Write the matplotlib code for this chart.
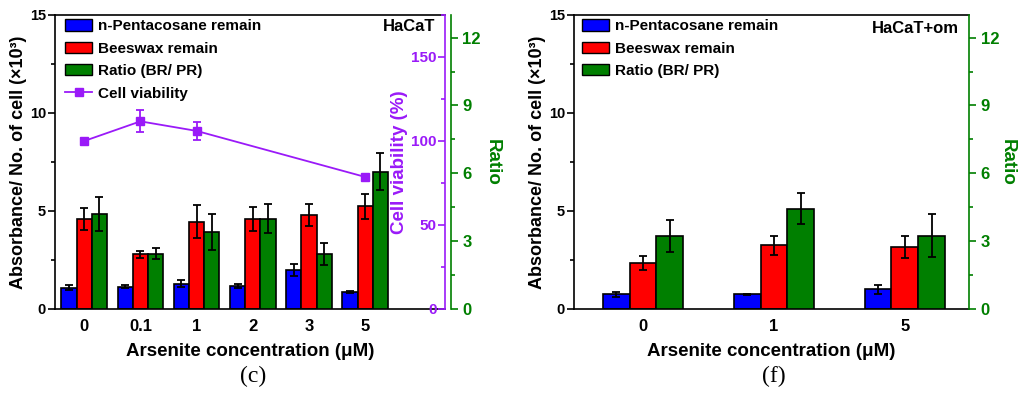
import matplotlib
matplotlib.use("Agg")
import matplotlib.pyplot as plt
from matplotlib.patches import Patch
from matplotlib.lines import Line2D
from matplotlib.ticker import MultipleLocator
import numpy as np

plt.rcParams['font.family'] = ['Liberation Sans', 'DejaVu Sans']
plt.rcParams['font.weight'] = 'bold'

# ---- data: panel (c) HaCaT ----
c_cats = ['0', '0.1', '1', '2', '3', '5']
c_pr = [1.09, 1.14, 1.29, 1.19, 1.97, 0.87]
c_pr_err = [0.11, 0.06, 0.19, 0.10, 0.31, 0.03]
c_br = [4.59, 2.80, 4.46, 4.59, 4.81, 5.24]
c_br_err = [0.58, 0.18, 0.86, 0.60, 0.56, 0.65]
c_ratio = [4.20, 2.44, 3.41, 4.00, 2.43, 6.06]
c_ratio_err = [0.75, 0.25, 0.81, 0.64, 0.49, 0.82]
c_via_cats = ['0', '0.1', '1', '5']
c_via = [100.0, 111.7, 106.0, 78.6]
c_via_err = [0.0, 6.5, 5.2, 0.0]

# ---- data: panel (f) HaCaT+om ----
f_cats = ['0', '1', '5']
f_pr = [0.75, 0.75, 1.00]
f_pr_err = [0.14, 0.02, 0.24]
f_br = [2.36, 3.25, 3.16]
f_br_err = [0.36, 0.48, 0.54]
f_ratio = [3.22, 4.44, 3.25]
f_ratio_err = [0.71, 0.68, 0.95]

BLUE = '#0000FF'
RED = '#FF0000'
GREEN = '#007F00'
PURPLE = '#9A1AF8'

fig = plt.figure(figsize=(10.24, 3.95), dpi=100)

def px_ax(l, r, t, b):
    W, H = 1024, 395
    return fig.add_axes([l / W, (H - b) / H, (r - l) / W, (b - t) / H])

ekw = dict(ecolor='black', elinewidth=1.3, capsize=3, capthick=1.3)
LEG_PROP = {'weight': 'bold', 'size': 11}


def setup_main(ax, cats, xlim):
    ax.set_xlim(*xlim)
    ax.set_ylim(0, 15)
    ax.set_xticks(np.arange(len(cats)))
    ax.set_xticklabels(cats, fontsize=12, fontweight='bold')
    ax.tick_params(axis='x', length=0, pad=7)
    ax.yaxis.set_major_locator(MultipleLocator(5))
    ax.yaxis.set_minor_locator(MultipleLocator(2.5))
    ax.tick_params(axis='y', which='major', length=5, width=1.2, labelsize=10.5, pad=1.5)
    ax.tick_params(axis='y', which='minor', length=3, width=1.2)
    for lab in ax.get_yticklabels():
        lab.set_fontweight('bold')
    ax.spines['right'].set_visible(False)
    for s in ['left', 'bottom', 'top']:
        ax.spines[s].set_linewidth(1.2)
    ax.set_ylabel('Absorbance/ No. of cell (×10³)', fontsize=13, fontweight='bold', labelpad=2)
    ax.set_xlabel('Arsenite concentration (μM)', fontsize=13.5, fontweight='bold', labelpad=7)


def setup_ratio(ax, pad):
    for s in ['left', 'top', 'bottom']:
        ax.spines[s].set_visible(False)
    ax.spines['right'].set_color(GREEN)
    ax.spines['right'].set_linewidth(1.2)
    ax.set_ylim(0, 13)
    ax.yaxis.set_major_locator(MultipleLocator(3))
    ax.yaxis.set_minor_locator(MultipleLocator(1.5))
    ax.tick_params(axis='y', which='major', length=5, width=1.2, colors=GREEN, labelsize=12)
    ax.tick_params(axis='y', which='minor', length=3, width=1.2, colors=GREEN)
    for lab in ax.get_yticklabels():
        lab.set_fontweight('bold')
    ax.set_ylabel('Ratio', fontsize=13.5, fontweight='bold', color=GREEN, rotation=270, labelpad=pad)


# ================= panel (c) =================
ax = px_ax(55, 445, 15, 309)
w = 0.27
x = np.arange(len(c_cats))
ax.bar(x - w, c_pr, w, color=BLUE, edgecolor='black', linewidth=1.2, yerr=c_pr_err, error_kw=ekw, zorder=2)
ax.bar(x, c_br, w, color=RED, edgecolor='black', linewidth=1.2, yerr=c_br_err, error_kw=ekw, zorder=2)
setup_main(ax, c_cats, (-0.52, 6.42))

axr = ax.twinx()
axr.bar(x + w, c_ratio, w, color=GREEN, edgecolor='black', linewidth=1.2, yerr=c_ratio_err, error_kw=ekw, zorder=2)
axr.spines['right'].set_position(('outward', 4))
setup_ratio(axr, 14)
axr.set_xlim(-0.52, 6.42)

axp = ax.twinx()
xv = [c_cats.index(c) for c in c_via_cats]
axp.errorbar(xv, c_via, yerr=c_via_err, color=PURPLE, marker='s', markersize=5.5,
             linewidth=1.3, ecolor=PURPLE, elinewidth=1.3, capsize=3, capthick=1.3, zorder=5)
axp.set_xlim(-0.52, 6.42)
axp.set_ylim(0, 175)
for s in ['right', 'top', 'bottom']:
    axp.spines[s].set_visible(False)
axp.spines['left'].set_position(('axes', 1.0))
axp.spines['left'].set_color(PURPLE)
axp.spines['left'].set_linewidth(1.2)
axp.yaxis.set_ticks_position('left')
axp.yaxis.set_label_position('left')
axp.yaxis.set_major_locator(MultipleLocator(50))
axp.yaxis.set_minor_locator(MultipleLocator(25))
axp.tick_params(axis='y', which='major', length=5, width=1.2, colors=PURPLE, labelsize=11, pad=1)
axp.tick_params(axis='y', which='minor', length=3, width=1.2, colors=PURPLE)
for lab in axp.get_yticklabels():
    lab.set_fontweight('bold')
axp.set_ylabel('Cell viability (%)', fontsize=13.5, fontweight='bold', color=PURPLE, labelpad=2)

handles = [Patch(facecolor=BLUE, edgecolor='black', label='n-Pentacosane remain'),
           Patch(facecolor=RED, edgecolor='black', label='Beeswax remain'),
           Patch(facecolor=GREEN, edgecolor='black', label='Ratio (BR/ PR)'),
           Line2D([0], [0], color=PURPLE, marker='s', markersize=5.5, linewidth=1.3, label='Cell viability')]
axp.legend(handles=handles, loc='upper left', bbox_to_anchor=(0.025, 0.985), frameon=False,
           prop=LEG_PROP, handlelength=1.8, handleheight=0.75,
           handletextpad=0.35, labelspacing=0.55, borderaxespad=0, borderpad=0)
axp.text(0.975, 0.985, 'HaCaT', transform=axp.transAxes, ha='right', va='top',
         fontsize=12, fontweight='bold')

fig.text(253 / 1024, 1 - 376 / 395, '(c)', ha='center', va='center', fontsize=17,
         family='Liberation Serif', fontweight='normal')

# ================= panel (f) =================
ax2 = px_ax(574, 969, 15, 309)
w2 = 0.204
x2 = np.arange(len(f_cats))
ax2.bar(x2 - w2, f_pr, w2, color=BLUE, edgecolor='black', linewidth=1.2, yerr=f_pr_err, error_kw=ekw, zorder=2)
ax2.bar(x2, f_br, w2, color=RED, edgecolor='black', linewidth=1.2, yerr=f_br_err, error_kw=ekw, zorder=2)
setup_main(ax2, f_cats, (-0.527, 2.49))

ax2r = ax2.twinx()
ax2r.bar(x2 + w2, f_ratio, w2, color=GREEN, edgecolor='black', linewidth=1.2, yerr=f_ratio_err, error_kw=ekw, zorder=2)
setup_ratio(ax2r, 12)
ax2r.set_xlim(-0.527, 2.49)

ax2r.legend(handles=handles[:3], loc='upper left', bbox_to_anchor=(0.02, 0.985), frameon=False,
            prop=LEG_PROP, handlelength=1.8, handleheight=0.75,
            handletextpad=0.35, labelspacing=0.55, borderaxespad=0, borderpad=0)
ax2r.text(0.975, 0.98, 'HaCaT+om', transform=ax2r.transAxes, ha='right', va='top',
          fontsize=12, fontweight='bold')

fig.text(774 / 1024, 1 - 376 / 395, '(f)', ha='center', va='center', fontsize=17,
         family='Liberation Serif', fontweight='normal')

fig.savefig('out.png', dpi=100)
